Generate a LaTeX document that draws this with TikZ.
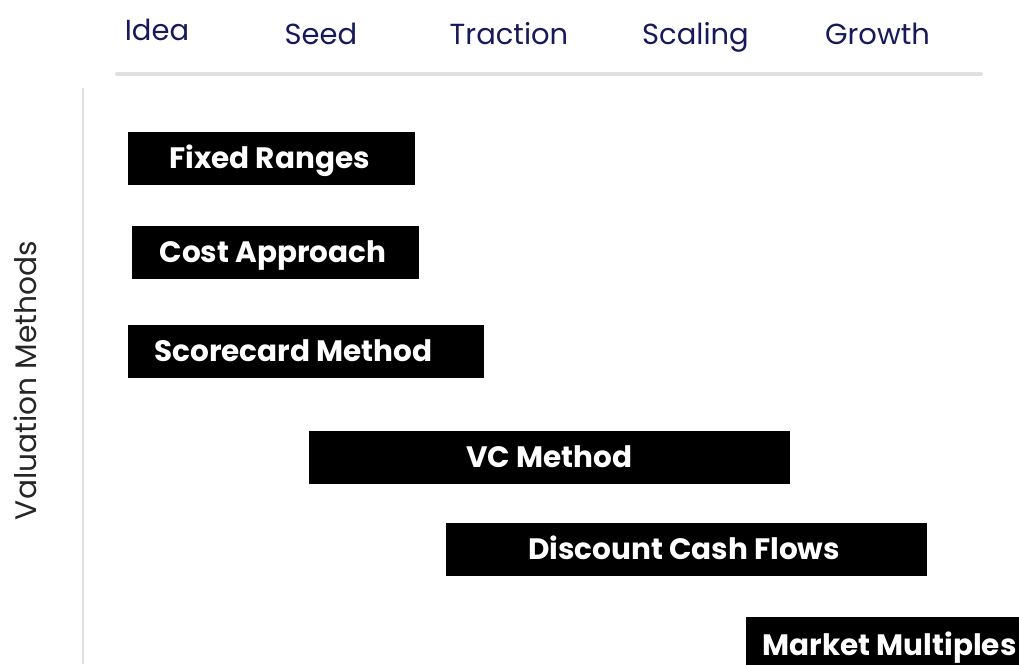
\documentclass[tikz,border=0pt]{standalone}
\usepackage{fontspec}
\setmainfont{Poppins}
\begin{document}
\begin{tikzpicture}[x=1pt,y=-1pt]
\definecolor{navy}{HTML}{161A5A}
\definecolor{rule}{HTML}{E0E0E0}
\tikzset{
  stage/.style={anchor=base, inner sep=0pt, text=navy, font=\fontsize{29}{29}\selectfont},
  bar/.style={fill=black, draw=none, inner sep=0pt, minimum height=53pt},
  barlabel/.style={anchor=base, inner sep=0pt, text=white, font=\fontsize{29.5}{29.5}\selectfont\bfseries},
}
\useasboundingbox (0,0) rectangle (1019,664);
% header
\node[stage] (idea) at (157,40) {Idea};
\node[stage] (seed) at (321,44) {Seed};
\node[stage] (traction) at (509,44) {Traction};
\node[stage] (scaling) at (695.5,44) {Scaling};
\node[stage] (growth) at (877.5,44) {Growth};
\coordinate (hl) at (117,74);
\coordinate (hr) at (981,74);
\draw[rule, line width=4pt, line cap=round] (hl) -- (hr);
% vertical axis
\coordinate (vt) at (83,88);
\coordinate (vb) at (83,664);
\draw[rule, line width=2pt] (vt) -- (vb);
\node[rotate=90, inner sep=0pt, text=black!85, font=\fontsize{29.7}{29.7}\selectfont] (axis) at (25,380.5) {Valuation Methods};
% bars
\node[bar, minimum width=287pt] (b1) at (271.5,158.5) {};
\node[barlabel] (t1) at (269.5,168) {Fixed Ranges};
\node[bar, minimum width=287pt] (b2) at (275.5,252.5) {};
\node[barlabel] (t2) at (273,262) {Cost Approach};
\node[bar, minimum width=356pt] (b3) at (306,351.5) {};
\node[barlabel] (t3) at (293.5,361) {Scorecard Method};
\node[bar, minimum width=481pt] (b4) at (549.5,457.5) {};
\node[barlabel] (t4) at (549.5,467) {VC Method};
\node[bar, minimum width=481pt] (b5) at (686.5,549.5) {};
\node[barlabel] (t5) at (684,559) {Discount Cash Flows};
\node[bar, minimum width=290pt] (b6) at (891,643.5) {};
\node[barlabel] (t6) at (889.5,655) {Market Multiples};
\end{tikzpicture}
\end{document}
